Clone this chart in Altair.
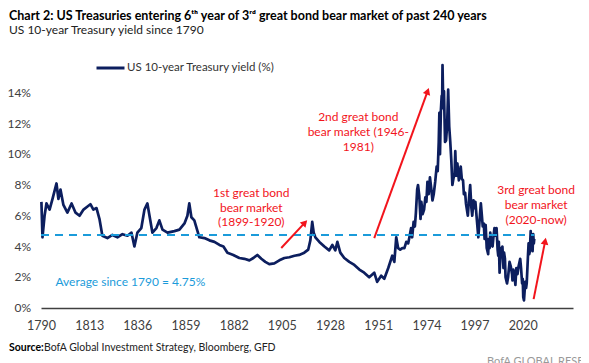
import altair as alt
import pandas as pd

# ---------------- data ----------------
SERIES = "US 10-year Treasury yield (%)"
AVERAGE = 4.75

years = [
    1790.2, 1790.7, 1791.7, 1792.6, 1794.1, 1795.5, 1797.4, 1798.3, 1799.3, 1800.7,
    1802.6, 1804.6, 1806.5, 1808.4, 1810.3, 1812.2, 1813.6, 1815.0, 1816.5, 1817.9,
    1819.3, 1821.7, 1824.1, 1826.5, 1828.9, 1831.3, 1833.2, 1834.6, 1836.0, 1837.9,
    1839.4, 1840.8, 1841.8, 1843.2, 1845.1, 1846.5, 1848.0, 1850.4, 1853.7, 1856.1,
    1858.5, 1859.9, 1860.8, 1861.8, 1863.2, 1865.6, 1868.0, 1870.4, 1872.8, 1875.2,
    1877.1, 1879.0, 1881.8, 1884.7, 1887.1, 1889.5, 1891.4, 1893.3, 1895.2, 1897.1,
    1899.0, 1901.4, 1903.8, 1906.2, 1908.6, 1911.0, 1913.3, 1915.7, 1917.6, 1918.6,
    1919.5, 1920.2, 1921.0, 1922.9, 1925.3, 1927.6, 1929.1, 1930.5, 1931.5, 1932.9,
    1934.8, 1937.2, 1939.6, 1942.0, 1944.3, 1946.7, 1949.1, 1950.5, 1952.4, 1953.9,
    1955.8, 1957.7, 1958.7, 1959.6, 1960.5, 1961.5, 1962.5, 1963.5, 1964.4, 1965.3,
    1965.9, 1966.7, 1967.2, 1967.9, 1968.5, 1969.0, 1969.6, 1970.0, 1970.6, 1971.2,
    1971.6, 1972.2, 1972.9, 1973.5, 1974.0, 1974.5, 1975.1, 1975.7, 1976.3, 1976.9,
    1977.5, 1978.2, 1978.9, 1979.4, 1979.9, 1980.2, 1980.5, 1980.9, 1981.3, 1981.5,
    1981.7, 1982.0, 1982.4, 1982.9, 1983.4, 1983.9, 1984.4, 1984.9, 1985.4, 1985.9,
    1986.4, 1986.9, 1987.5, 1987.8, 1988.2, 1988.8, 1989.5, 1990.4, 1990.9, 1991.5,
    1991.9, 1992.5, 1992.9, 1993.8, 1994.4, 1994.9, 1995.5, 1995.9, 1996.5, 1997.0,
    1997.4, 1998.0, 1998.8, 1999.5, 2000.0, 2000.5, 2000.9, 2001.4, 2001.8, 2002.3,
    2002.8, 2003.5, 2003.8, 2004.2, 2004.5, 2005.1, 2005.6, 2006.0, 2006.5, 2007.0,
    2007.5, 2008.0, 2008.3, 2008.6, 2008.95, 2009.5, 2009.9, 2010.3, 2010.8, 2011.1,
    2011.5, 2011.8, 2012.5, 2013.0, 2013.7, 2014.3, 2014.9, 2015.1, 2015.5, 2016.0,
    2016.5, 2016.95, 2017.5, 2018.0, 2018.8, 2019.2, 2019.7, 2020.0, 2020.25, 2020.6,
    2021.2, 2021.6, 2021.9, 2022.3, 2022.5, 2022.8, 2023.1, 2023.4, 2023.8, 2024.0,
    2024.3, 2024.7, 2025.0, 2025.3, 2025.5,
]
yields = [
    6.9, 4.6, 6.0, 6.8, 6.4, 7.1, 8.1, 7.1, 7.7, 6.7,
    6.2, 6.8, 6.2, 6.0, 6.4, 6.6, 6.75, 6.4, 6.5, 5.8,
    4.7, 4.55, 4.75, 4.6, 4.8, 4.7, 4.9, 4.0, 4.9, 5.2,
    6.4, 6.8, 6.0, 4.9, 5.2, 5.7, 5.1, 4.9, 5.0, 5.1,
    5.5, 6.0, 6.8, 5.9, 5.7, 4.6, 4.55, 4.4, 4.3, 4.1,
    4.0, 3.6, 3.45, 3.25, 3.2, 3.1, 3.25, 3.45, 3.2, 3.0,
    2.85, 2.9, 3.1, 3.25, 3.3, 3.4, 3.45, 3.6, 3.8, 4.4,
    5.6, 4.9, 4.6, 4.3, 4.0, 3.75, 4.1, 3.75, 4.3, 3.6,
    3.25, 3.0, 2.8, 2.5, 2.3, 2.0, 2.3, 1.7, 2.1, 1.9,
    2.6, 3.4, 3.0, 4.6, 3.9, 3.8, 3.9, 3.9, 4.3, 4.2,
    4.6, 5.2, 4.6, 5.6, 5.3, 6.2, 7.7, 8.0, 7.3, 5.8,
    6.9, 6.1, 6.4, 7.2, 6.9, 8.2, 7.4, 8.5, 7.8, 7.0,
    7.4, 8.2, 9.2, 8.9, 10.8, 12.7, 10.0, 12.8, 13.8, 13.0,
    15.8, 13.6, 14.1, 10.8, 10.9, 11.9, 14.2, 11.8, 10.8, 9.6,
    8.0, 8.4, 8.8, 10.2, 8.6, 9.4, 8.3, 9.2, 8.4, 8.3,
    7.4, 7.5, 6.8, 6.0, 7.2, 8.0, 6.5, 6.0, 7.0, 6.5,
    6.9, 5.9, 4.6, 5.9, 6.8, 6.0, 5.3, 5.5, 4.5, 5.4,
    3.9, 3.5, 4.5, 3.9, 4.9, 4.1, 4.0, 4.6, 5.2, 4.7,
    5.2, 3.8, 3.4, 4.3, 2.3, 3.9, 3.4, 4.0, 2.6, 3.6,
    3.2, 2.0, 1.6, 2.0, 3.0, 2.7, 2.2, 1.8, 2.5, 2.2,
    1.5, 2.6, 2.2, 2.7, 3.2, 2.6, 1.6, 1.9, 0.7, 0.5,
    1.7, 1.3, 1.6, 2.8, 3.4, 4.2, 3.5, 3.7, 5.0, 3.9,
    4.7, 3.7, 4.8, 4.2, 4.5,
]

x_ticks = [1790, 1813, 1836, 1859, 1882, 1905, 1928, 1951, 1974, 1997, 2020]
y_ticks = [0, 2, 4, 6, 8, 10, 12, 14]

# annotation texts and their anchor points (in data units: year, %)
ann_text = ["1st great bond", "bear market", "(1899-1920)",
            "2nd great bond", "bear market (1946-", "1981)",
            "3rd great bond", "bear market", "(2020-now)"]
ann_year = [1890.4, 1890.4, 1890.4,
            1941.5, 1941.5, 1941.5,
            2026.4, 2026.4, 2026.4]
ann_pct = [7.47, 6.49, 5.58,
           12.40, 11.43, 10.45,
           7.66, 6.69, 5.71]

# arrows: tail (year, %) -> head (year, %)
arrow_x = [1904.7, 1949.1, 2025.2]
arrow_y = [3.90, 4.55, 0.58]
arrow_x2 = [1916.0, 1974.6, 2030.7]
arrow_y2 = [5.55, 14.1, 4.35]
arrow_angle = [43, 20, 11]

avg_label = "Average since 1790 = 4.75%"
avg_label_year = 1796.9
avg_label_pct = 1.71
avg_end_year = 2025.5

TITLE = "Chart 2: US Treasuries entering 6\u1d57\u02b0 year of 3\u02b3\u1d48 great bond bear market of past 240 years"
SUBTITLE = "US 10-year Treasury yield since 1790"
SOURCE_BOLD = "Source:"
SOURCE_REST = "BofA Global Investment Strategy, Bloomberg, GFD"
BRAND = "BofA GLOBAL RESEARCH"

# ---------------- styling ----------------
FONT = "Lato"
NAVY = "#0C1E5E"
RED = "#F2141C"
BLUE = "#1B9BDA"
GREY = "#404040"

W, H = 532, 246

df = pd.DataFrame({"year": years, "yield": yields, "series": SERIES})
ann = pd.DataFrame({"year": ann_year, "pct": ann_pct, "text": ann_text})
arr = pd.DataFrame({"x": arrow_x, "y": arrow_y, "x2": arrow_x2, "y2": arrow_y2,
                    "angle": arrow_angle})
avg = pd.DataFrame({"x": [1790], "x2": [avg_end_year], "y": [AVERAGE]})
avg_lbl = pd.DataFrame({"x": [avg_label_year], "y": [avg_label_pct], "t": [avg_label]})
ylab = pd.DataFrame({"v": y_ticks, "t": [f"{v}%" for v in y_ticks]})

xscale = alt.Scale(domain=[1790, 2044], nice=False, zero=False)
yscale = alt.Scale(domain=[0, 16], nice=False, zero=True)


def X(field):
    return alt.X(field, scale=xscale, title=None)


def Y(field):
    return alt.Y(field, scale=yscale, axis=None)


line = alt.Chart(df).mark_line(strokeWidth=2.7, strokeJoin="round").encode(
    x=alt.X("year:Q", scale=xscale, title=None,
            axis=alt.Axis(values=x_ticks, format="d", labelFlush=False, grid=False,
                          ticks=False, tickSize=0, labelPadding=11, labelOverlap=False,
                          domainColor=GREY, domainWidth=1.5,
                          labelFont=FONT, labelFontSize=12.5, labelColor=GREY)),
    y=Y("yield:Q"),
    color=alt.Color("series:N", scale=alt.Scale(domain=[SERIES], range=[NAVY]), title=None,
                    legend=alt.Legend(orient="none", legendX=54, legendY=-9.5,
                                      symbolType="stroke", symbolStrokeWidth=3,
                                      symbolSize=784, labelOffset=1, padding=0,
                                      labelLimit=400,
                                      labelFont=FONT, labelFontSize=11.5, labelColor="#333")),
)

# y tick labels (value axis, no axis line)
ylabels = alt.Chart(ylab).mark_text(
    align="right", baseline="middle", font=FONT, fontSize=12, color=GREY
).encode(x=alt.value(-10), y=Y("v:Q"), text="t:N")

avg_rule = alt.Chart(avg).mark_rule(color=BLUE, strokeWidth=2, strokeDash=[8, 6]).encode(
    x=X("x:Q"), x2="x2:Q", y=Y("y:Q")
)

avg_text = alt.Chart(avg_lbl).mark_text(
    align="left", baseline="middle", font=FONT, fontSize=12, color=BLUE
).encode(x=X("x:Q"), y=Y("y:Q"), text="t:N")

arrow_lines = alt.Chart(arr).mark_rule(color=RED, strokeWidth=2).encode(
    x=X("x:Q"), y=Y("y:Q"), x2="x2:Q", y2="y2:Q"
)
arrow_heads = alt.Chart(arr).mark_point(
    shape="triangle-up", filled=True, color=RED, size=60, opacity=1
).encode(x=X("x2:Q"), y=Y("y2:Q"), angle=alt.Angle("angle:Q", scale=None))

ann_marks = alt.Chart(ann).mark_text(
    align="center", baseline="middle", font=FONT, fontSize=12, color=RED
).encode(x=X("year:Q"), y=Y("pct:Q"), text="text:N")

one = pd.DataFrame({"k": [0]})


def label(txt, x, y, size, weight="normal", color="#000", baseline="alphabetic"):
    return alt.Chart(one).mark_text(
        align="left", baseline=baseline, font=FONT, fontSize=size,
        fontWeight=weight, color=color
    ).encode(x=alt.value(x), y=alt.value(y), text=alt.value(txt))


title = label(TITLE, -32, -42, 12.5, "bold", "#000")
subtitle = label(SUBTITLE, -32, -28, 12, "normal", "#222")
src_b = label(SOURCE_BOLD, -32, 288.5, 10.5, "bold", "#000")
src_r = label(SOURCE_REST, 3, 288.5, 10.5, "normal", "#222")
brand = label(BRAND, 446, 303, 11, "normal", "#999")

chart = alt.layer(
    line, avg_rule, ylabels, avg_text, arrow_lines, arrow_heads, ann_marks,
    title, subtitle, src_b, src_r, brand
).properties(
    width=W, height=H,
    autosize=alt.AutoSizeParams(type="none"),
    padding={"left": 33, "top": 54, "right": 8, "bottom": 60},
    background="white",
).configure_view(stroke=None)

chart.save("out.html", embed_options={"renderer": "svg", "actions": False})
